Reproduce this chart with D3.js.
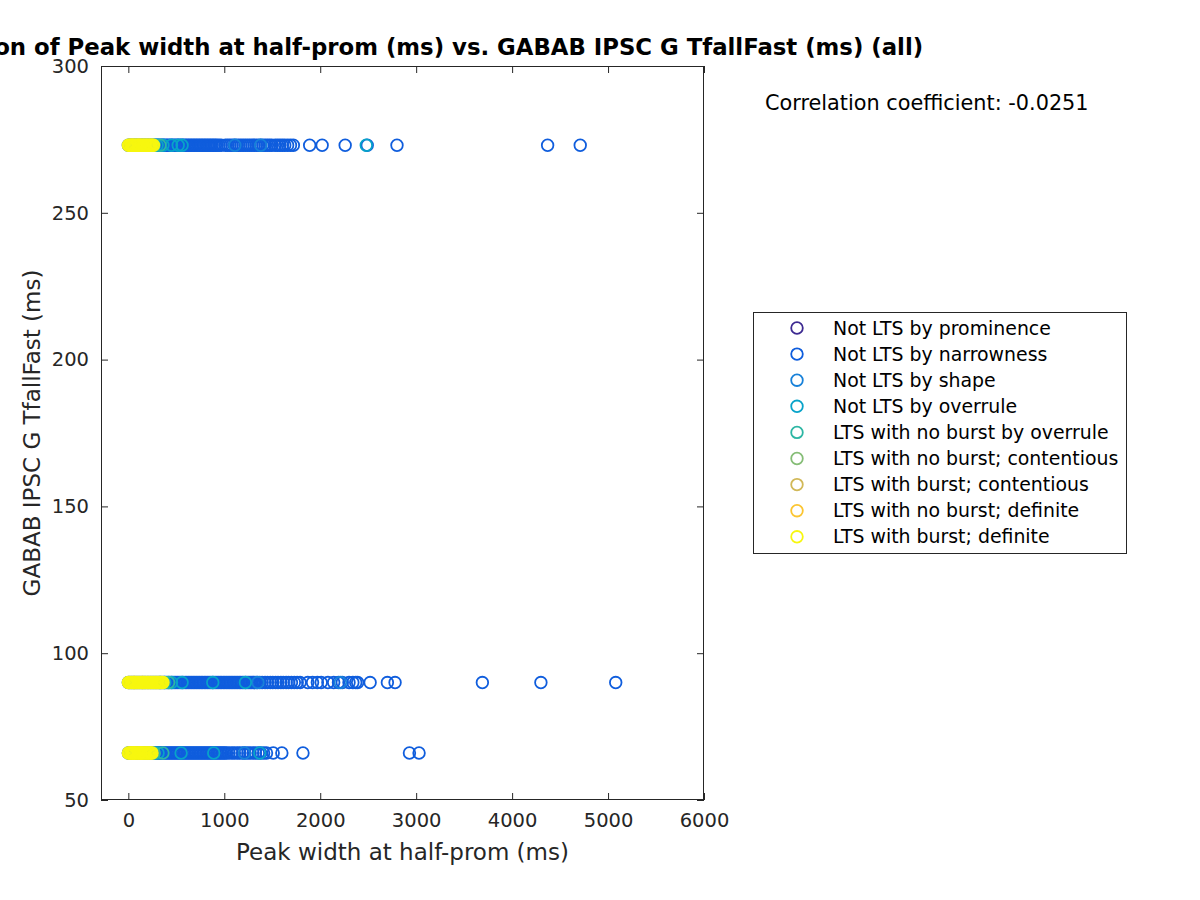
<!DOCTYPE html>
<html><head><meta charset="utf-8">
<script src="https://cdn.jsdelivr.net/npm/d3@7"></script>
<style>body{margin:0;background:#fff}svg{font-family:"DejaVu Sans",sans-serif}</style>
</head><body><svg id="c" width="1200" height="900"></svg>
<script>
const titleText = "Correlation of Peak width at half-prom (ms) vs. GABAB IPSC G TfallFast (ms) (all)";
const xLabel = "Peak width at half-prom (ms)";
const yLabel = "GABAB IPSC G TfallFast (ms)";
const corrText = "Correlation coefficient: -0.0251";
const xTicks = [0, 1000, 2000, 3000, 4000, 5000, 6000];
const yTicks = [50, 100, 150, 200, 250, 300];
const categories = ["Not LTS by prominence","Not LTS by narrowness","Not LTS by shape","Not LTS by overrule","LTS with no burst by overrule","LTS with no burst; contentious","LTS with burst; contentious","LTS with no burst; definite","LTS with burst; definite"];
const colors = ["#3d2a91","#0f5ddd","#1781d9","#08a3c9","#2db6a4","#85bd76","#d1b857","#fbc531","#f7f70f"];

// x values per category at each y level (273, 90, 66)
const narrow273 = [0,16,33,49,66,82,99,115,132,148,165,181,198,214,231,247,264,280,297,313,330,346,363,379,396,412,429,445,462,478,495,511,528,544,561,577,594,610,627,643,660,676,693,709,726,742,759,775,792,808,825,841,858,874,891,907,924,945,968,1012,1035,1058,1081,1104,1127,1150,1173,1196,1219,1242,1265,1288,1311,1334,1357,1380,1403,1426,1449,1472,1495,1530,1555,1580,1605,1630,1660,1690,1720,1890,2020,2260,2490,2800,4370,4710];
const narrow90 = [0,16,33,49,66,82,99,115,132,148,165,181,198,214,231,247,264,280,297,313,330,346,363,379,396,412,429,445,462,478,495,511,528,544,561,577,594,610,627,643,660,676,693,709,726,742,759,775,792,808,825,841,858,874,891,907,924,940,957,973,990,1006,1023,1039,1056,1072,1089,1105,1122,1138,1155,1171,1188,1204,1221,1237,1254,1270,1287,1303,1320,1340,1370,1395,1425,1450,1480,1505,1535,1560,1590,1615,1645,1670,1700,1730,1760,1790,1870,1920,1970,2010,2080,2140,2190,2230,2300,2340,2370,2390,2520,2700,2780,3690,4300,5080];
const narrow66 = [0,16,33,49,66,82,99,115,132,148,165,181,198,214,231,247,264,280,297,313,330,346,363,379,396,412,429,445,462,478,495,511,528,544,561,577,594,610,627,643,660,676,693,709,726,742,759,775,792,808,825,841,858,874,891,907,924,940,957,973,990,1006,1023,1050,1080,1105,1135,1160,1190,1215,1245,1270,1300,1325,1355,1380,1410,1440,1510,1600,1820,2930,3030];
const shape273 = [1110, 1380];
const shape90 = [1350, 2210];
const shape66 = [1210];
const overrule273 = [300, 360, 450, 520, 560, 2480];
const overrule90 = [380, 450, 560, 880, 1220];
const overrule66 = [310, 550, 890, 1370];
const ltsOver273 = [270, 330];
const ltsOver90 = [330, 420];
const ltsOver66 = [270, 360];
const burstDef273 = [0,12,25,37,50,62,75,87,100,112,125,137,150,162,175,187,200,212,225,237,250,262];
const burstDef90 = [0,12,25,37,50,62,75,87,100,112,125,137,150,162,175,187,200,212,225,237,250,262,275,287,300,312,325,337,350,362];
const burstDef66 = [0,12,25,37,50,62,75,87,100,112,125,137,150,162,175,187,200,212,225,237,248];
const noBurstDef273 = [40, 110];
const noBurstDef90 = [60, 150];
const noBurstDef66 = [50, 130];

const W = 1200, H = 900;
const m = {l:101, r:704, t:66, b:800};
const svg = d3.select("#c");
const x = d3.scaleLinear().domain([-285, 6000]).range([m.l, m.r]);
const y = d3.scaleLinear().domain([50, 300]).range([m.b, m.t]);
const tc = "#262626";

const levels = [273, 90, 66];
const byCat = [
  [[],[],[]],
  [narrow273, narrow90, narrow66],
  [shape273, shape90, shape66],
  [overrule273, overrule90, overrule66],
  [ltsOver273, ltsOver90, ltsOver66],
  [[],[],[]],
  [[],[],[]],
  [noBurstDef273, noBurstDef90, noBurstDef66],
  [burstDef273, burstDef90, burstDef66]
];

svg.append("defs").append("clipPath").attr("id","pc").append("rect")
  .attr("x",m.l).attr("y",m.t).attr("width",m.r-m.l).attr("height",m.b-m.t);

const pts = svg.append("g").attr("clip-path","url(#pc)");
byCat.forEach((lv, ci) => {
  lv.forEach((xs, li) => {
    pts.selectAll(null).data(xs).enter().append("circle")
      .attr("cx", d => x(d)).attr("cy", y(levels[li])).attr("r", 5.8)
      .attr("fill","none").attr("stroke", colors[ci]).attr("stroke-width", 1.8);
  });
});

const xb = svg.append("g").attr("transform",`translate(0,${m.b})`)
  .call(d3.axisBottom(x).tickValues(xTicks).tickSizeInner(-7).tickSizeOuter(0).tickPadding(13).tickFormat(d3.format("d")));
const xt = svg.append("g").attr("transform",`translate(0,${m.t})`)
  .call(d3.axisTop(x).tickValues(xTicks).tickSizeInner(-7).tickSizeOuter(0).tickFormat(""));
const yl = svg.append("g").attr("transform",`translate(${m.l},0)`)
  .call(d3.axisLeft(y).tickValues(yTicks).tickSizeInner(-7).tickSizeOuter(0).tickPadding(12));
const yr = svg.append("g").attr("transform",`translate(${m.r},0)`)
  .call(d3.axisRight(y).tickValues(yTicks).tickSizeInner(-7).tickSizeOuter(0).tickFormat(""));
[xb,xt,yl,yr].forEach(g => {
  g.select(".domain").remove();
  g.selectAll("line").attr("stroke",tc).attr("stroke-width",1);
  g.selectAll("text").attr("fill",tc).style("font-size","19.5px").style("font-family","DejaVu Sans");
});
svg.append("rect").attr("x",m.l+0.5).attr("y",m.t+0.5).attr("width",m.r-m.l-1).attr("height",m.b-m.t-1)
  .attr("fill","none").attr("stroke",tc).attr("stroke-width",1);

svg.append("text").attr("x",(m.l+m.r)/2).attr("y",860).attr("text-anchor","middle")
  .attr("fill",tc).style("font-size","23px").text(xLabel);
svg.append("text").attr("transform",`translate(40,${(m.t+m.b)/2}) rotate(-90)`).attr("text-anchor","middle")
  .attr("fill",tc).style("font-size","23px").text(yLabel);
svg.append("text").attr("x",(m.l+m.r)/2).attr("y",55).attr("text-anchor","middle")
  .attr("fill","#000").style("font-size","22.8px").style("font-weight","bold").text(titleText);
svg.append("text").attr("x",765).attr("y",110).attr("fill","#000").style("font-size","20.8px").text(corrText);

const lg = svg.append("g");
lg.append("rect").attr("x",753.5).attr("y",312.5).attr("width",373).attr("height",241)
  .attr("fill","#fff").attr("stroke",tc).attr("stroke-width",1);
categories.forEach((c,i) => {
  const yy = 328 + i*26.1;
  lg.append("circle").attr("cx",797).attr("cy",yy).attr("r",5.8).attr("fill","none")
    .attr("stroke",colors[i]).attr("stroke-width",1.8);
  lg.append("text").attr("x",833).attr("y",yy+6.5).attr("fill","#000").style("font-size","18.9px").text(c);
});
</script></body></html>
